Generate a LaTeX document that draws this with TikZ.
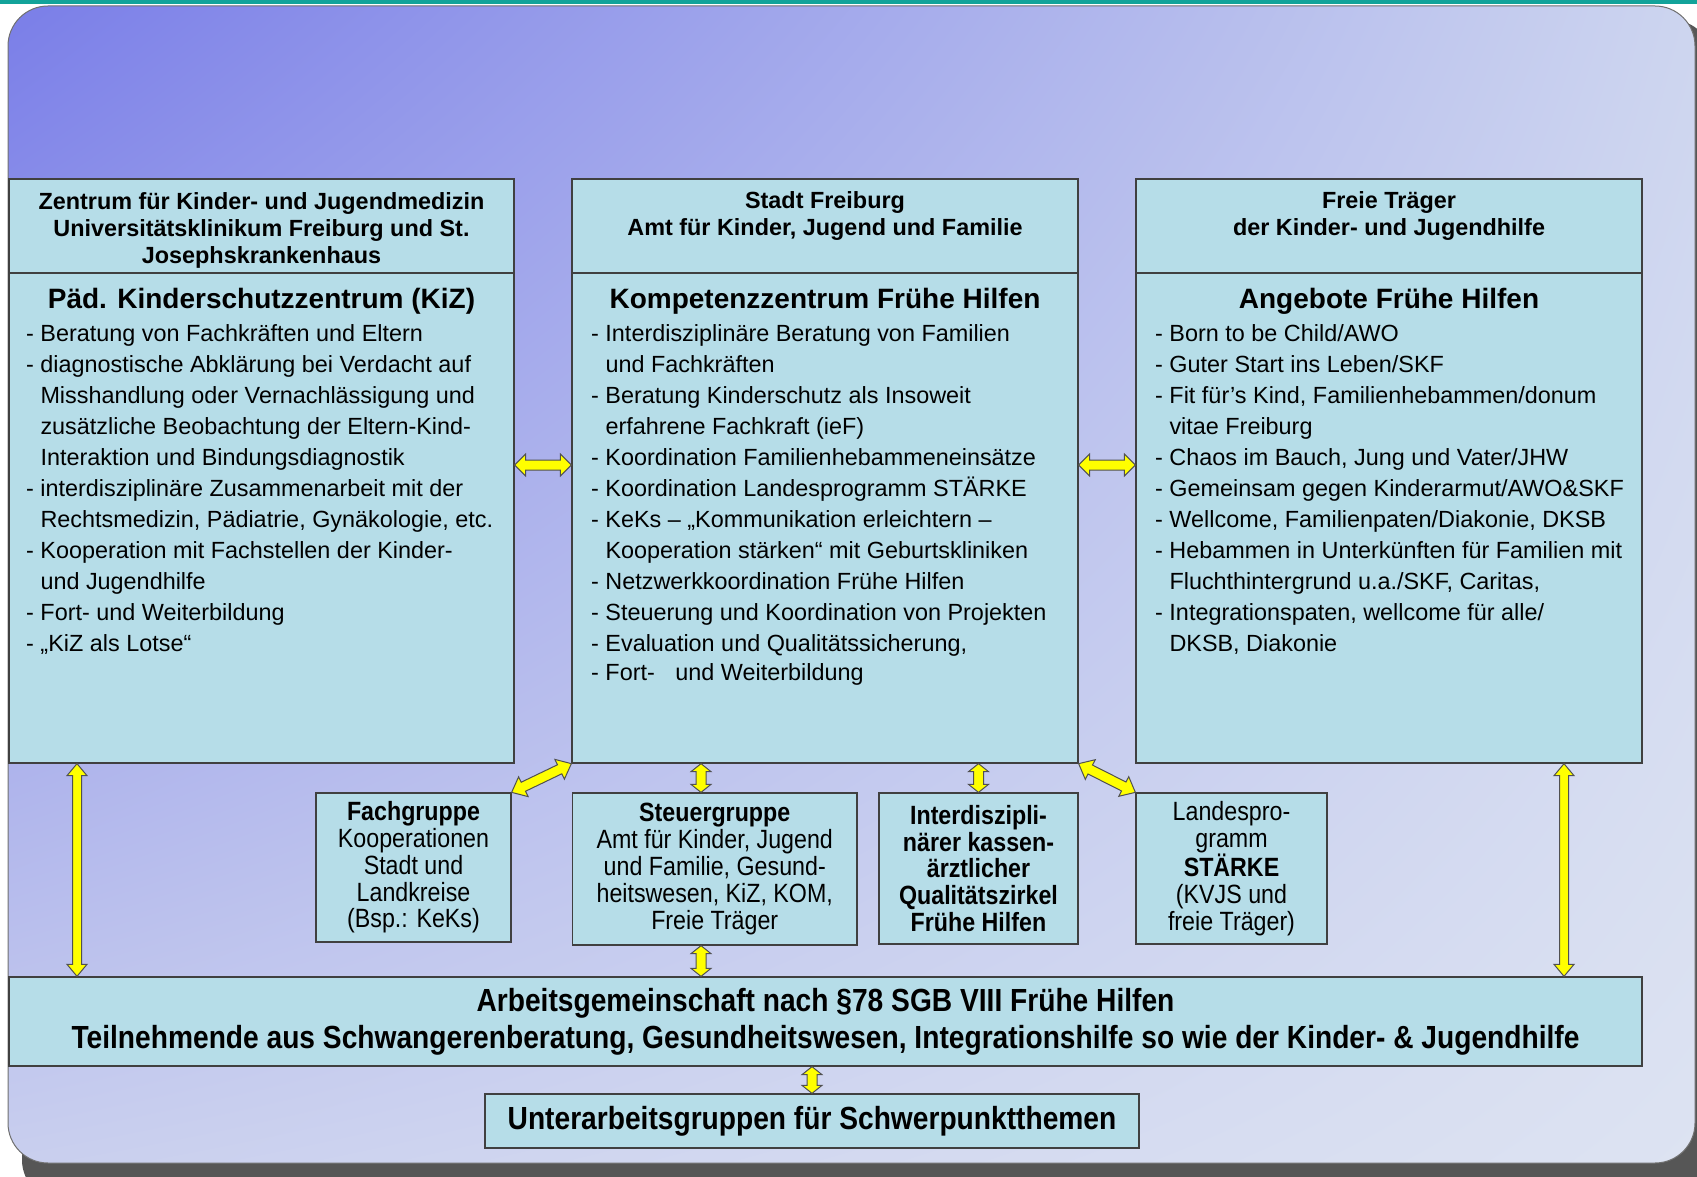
\documentclass[tikz,border=0pt]{standalone}
\usepackage{fontspec}
\setmainfont{Liberation Sans}
\newfontfamily\narrowfont[FakeStretch=0.88]{Liberation Sans}
\usetikzlibrary{calc,shadings}

\definecolor{boxfill}{HTML}{B6DDE8}
\definecolor{boxline}{HTML}{404040}
\definecolor{bandteal}{HTML}{12A39A}
\definecolor{shadowgrey}{HTML}{565656}
\definecolor{bgline}{HTML}{707070}
\definecolor{bgA}{HTML}{7A7EE8}
\definecolor{bgB}{HTML}{CDD5EF}
\definecolor{bgC}{HTML}{C9CFEE}
\definecolor{bgD}{HTML}{DDE3F2}
\definecolor{arrowyellow}{HTML}{FFFF00}
\definecolor{arrowline}{HTML}{505050}

\newcommand{\indline}{\hspace*{14.3pt}}
\newcommand{\dblarrow}[5]{%
  \coordinate (arrA) at ($(#4)!#1!(#5)$);
  \coordinate (arrB) at ($(#5)!#1!(#4)$);
  \filldraw[arrowbox] (#4) -- ($(arrA)!#2!90:(#5)$) -- ($(arrA)!#3!90:(#5)$)
    -- ($(arrB)!#3!-90:(#4)$) -- ($(arrB)!#2!-90:(#4)$) -- (#5)
    -- ($(arrB)!#2!90:(#4)$) -- ($(arrB)!#3!90:(#4)$)
    -- ($(arrA)!#3!-90:(#5)$) -- ($(arrA)!#2!-90:(#5)$) -- cycle;}

\begin{document}
\begin{tikzpicture}[x=1pt,y=-1pt]
        \tikzstyle{panel}=[draw=boxline,fill=boxfill,line width=1.3pt,inner sep=0pt]
        \tikzstyle{headtext}=[anchor=base,align=center,inner sep=0pt,font=\bfseries\fontsize{23.4}{27}\selectfont]
        \tikzstyle{titletext}=[anchor=base,inner sep=0pt,font=\bfseries\fontsize{28}{32}\selectfont]
        \tikzstyle{bodytext}=[anchor=base west,align=left,inner sep=0pt,font=\fontsize{23.4}{31}\selectfont]
        \tikzstyle{groupbox}=[panel,align=center,font=\narrowfont\fontsize{26.4}{26.8}\selectfont]
        \tikzstyle{widebox}=[panel,align=center,font=\narrowfont\bfseries\fontsize{32}{37}\selectfont]
        \tikzstyle{arrowbox}=[fill=arrowyellow,draw=arrowline,line width=1pt,line join=miter]
       \useasboundingbox (0,0) rectangle (1697,1177);
       \begin{scope}
         \clip (0,0) rectangle (1697,1177);
         \fill[shadowgrey,rounded corners=40pt] (22,20) rectangle (1712,1200);
       \end{scope}
       \fill[bandteal] (0,0) rectangle (1697,4);
       \shade[rounded corners=40pt,upper left=bgA,upper right=bgB,lower left=bgC,lower right=bgD] (8,6) rectangle (1695,1163);
       \draw[bgline,line width=1pt,rounded corners=40pt] (8,6) rectangle (1695,1163);

       \node[panel,minimum width=505,minimum height=94] (kizhead) at (261.5,226) {};
       \node[panel,minimum width=505,minimum height=490] (kiz) at (261.5,518) {};
       \node[panel,minimum width=506,minimum height=94] (kzhead) at (825,226) {};
       \node[panel,minimum width=506,minimum height=490] (kz) at (825,518) {};
       \node[panel,minimum width=506,minimum height=94] (fthead) at (1389,226) {};
       \node[panel,minimum width=506,minimum height=490] (ft) at (1389,518) {};

       \node[headtext] (kizhtxt) at (261.5,263) {Zentrum für Kinder- und Jugendmedizin\\Universitätsklinikum Freiburg und St.\\Josephskrankenhaus};
       \node[headtext] (kzhtxt) at (825,236) {Stadt Freiburg\\Amt für Kinder, Jugend und Familie};
       \node[headtext] (fthtxt) at (1389,236) {Freie Träger\\der Kinder- und Jugendhilfe};

       \node[titletext] (kiztitle) at (261.5,308.7) {Päd. Kinderschutzzentrum (KiZ)};
       \node[titletext] (kztitle) at (825,308.7) {Kompetenzzentrum Frühe Hilfen};
       \node[titletext] (fttitle) at (1389,308.7) {Angebote Frühe Hilfen};

       \node[bodytext] (kiztxt) at (26,651.4) {- Beratung von Fachkräften und Eltern\\
         - diagnostische Abklärung bei Verdacht auf\\
         \indline Misshandlung oder Vernachlässigung und\\
         \indline zusätzliche Beobachtung der Eltern-Kind-\\
         \indline Interaktion und Bindungsdiagnostik\\
         - interdisziplinäre Zusammenarbeit mit der\\
         \indline Rechtsmedizin, Pädiatrie, Gynäkologie, etc.\\
         - Kooperation mit Fachstellen der Kinder-\\
         \indline und Jugendhilfe\\
         - Fort- und Weiterbildung\\
         - „KiZ als Lotse“};
       \node[bodytext] (kztxt) at (591,680) {- Interdisziplinäre Beratung von Familien\\
         \indline und Fachkräften\\
         - Beratung Kinderschutz als Insoweit\\
         \indline erfahrene Fachkraft (ieF)\\
         - Koordination Familienhebammeneinsätze\\
         - Koordination Landesprogramm STÄRKE\\
         - KeKs – „Kommunikation erleichtern –\\
         \indline Kooperation stärken“ mit Geburtskliniken\\
         - Netzwerkkoordination Frühe Hilfen\\
         - Steuerung und Koordination von Projekten\\
         - Evaluation und Qualitätssicherung,\\[-2.5pt]
         - Fort-\hspace{14pt} und Weiterbildung};
       \node[bodytext] (fttxt) at (1155,651.4) {- Born to be Child/AWO\\
         - Guter Start ins Leben/SKF\\
         - Fit für's Kind, Familienhebammen/donum\\
         \indline vitae Freiburg\\
         - Chaos im Bauch, Jung und Vater/JHW\\
         - Gemeinsam gegen Kinderarmut/AWO\&SKF\\
         - Wellcome, Familienpaten/Diakonie, DKSB\\
         - Hebammen in Unterkünften für Familien mit\\
         \indline Fluchthintergrund u.a./SKF, Caritas,\\
         - Integrationspaten, wellcome für alle/\\
         \indline DKSB, Diakonie};

       \node[groupbox,minimum width=195,minimum height=149] (fach) at (413.5,867.5) {\textbf{Fachgruppe}\\Kooperationen\\Stadt und\\Landkreise\\(Bsp.: KeKs)};
       \node[groupbox,minimum width=284.5,minimum height=152] (steuer) at (714.75,869) {\textbf{Steuergruppe}\\Amt für Kinder, Jugend\\und Familie, Gesund-\\heitswesen, KiZ, KOM,\\Freie Träger};
       \node[groupbox,minimum width=199,minimum height=151,font=\narrowfont\bfseries\fontsize{26.4}{26.8}\selectfont] (quali) at (978.5,868.5) {Interdiszipli-\\närer kassen-\\ärztlicher\\Qualitätszirkel\\Frühe Hilfen};
       \node[groupbox,minimum width=191,minimum height=151] (landes) at (1231.5,868.5) {Landespro-\\gramm\\\textbf{STÄRKE}\\(KVJS und\\freie Träger)};
       \node[widebox,minimum width=1633,minimum height=89] (arge) at (825.5,1021.5) {Arbeitsgemeinschaft nach §78 SGB VIII Frühe Hilfen\\Teilnehmende aus Schwangerenberatung, Gesundheitswesen, Integrationshilfe so wie der Kinder- \& Jugendhilfe};
       \node[widebox,minimum width=654,minimum height=54] (unter) at (812,1121) {Unterarbeitsgruppen für Schwerpunktthemen};

       \coordinate (hlev) at (0,465);
       \coordinate (leftx) at (77,0);
       \coordinate (rightx) at (1564,0);
       \coordinate (steuerx) at (701,0);
       \dblarrow{11pt}{11pt}{5pt}{kiz.east |- hlev}{kz.west |- hlev}
       \dblarrow{11pt}{11pt}{5pt}{kz.east |- hlev}{ft.west |- hlev}
       \dblarrow{12pt}{10pt}{4.5pt}{kiz.south -| leftx}{arge.north -| leftx}
       \dblarrow{12pt}{10pt}{4.5pt}{ft.south -| rightx}{arge.north -| rightx}
       \dblarrow{13pt}{11pt}{5pt}{kz.south west}{fach.north east}
       \dblarrow{13pt}{11pt}{5pt}{kz.south east}{landes.north west}
       \dblarrow{8pt}{10pt}{5pt}{kz.south -| steuerx}{steuer.north -| steuerx}
       \dblarrow{8pt}{10pt}{5pt}{kz.south -| quali}{quali.north}
       \dblarrow{8pt}{10pt}{5pt}{steuer.south -| steuerx}{arge.north -| steuerx}
       \dblarrow{8pt}{10pt}{5pt}{arge.south -| unter}{unter.north}
      \end{tikzpicture}
\end{document}
